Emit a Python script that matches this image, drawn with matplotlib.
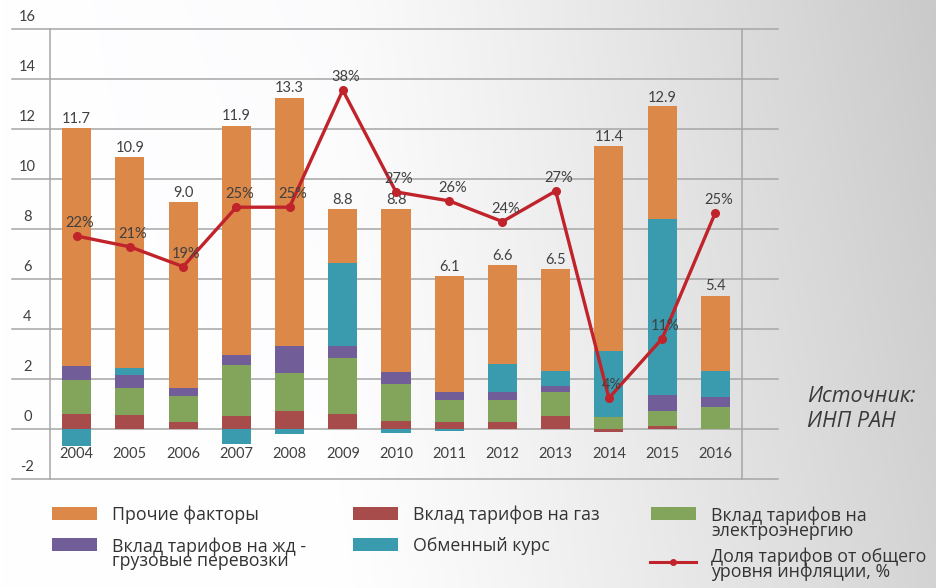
import numpy as np
import matplotlib
matplotlib.use("Agg")
import matplotlib.pyplot as plt
from matplotlib.patches import Rectangle
from matplotlib.lines import Line2D
from matplotlib.transforms import blended_transform_factory

# ---------------- data ----------------
years = ["2004", "2005", "2006", "2007", "2008", "2009", "2010",
         "2011", "2012", "2013", "2014", "2015", "2016"]
gas = [0.61, 0.57, 0.27, 0.51, 0.71, 0.61, 0.33, 0.29, 0.29, 0.53, -0.13, 0.11, 0.0]
electricity = [1.36, 1.09, 1.07, 2.04, 1.52, 2.25, 1.48, 0.88, 0.88, 0.96, 0.49, 0.63, 0.87]
rail = [0.56, 0.51, 0.29, 0.40, 1.08, 0.47, 0.48, 0.32, 0.32, 0.24, 0.0, 0.64, 0.40]
exchange = [-0.67, 0.28, 0.0, -0.61, -0.21, 3.32, -0.17, -0.09, 1.13, 0.60, 2.64, 7.04, 1.04]
other = [9.50, 8.44, 7.44, 9.19, 9.95, 2.16, 6.52, 4.64, 3.94, 4.08, 8.20, 4.48, 3.03]
total_labels = ["11.7", "10.9", "9.0", "11.9", "13.3", "8.8", "8.8",
                "6.1", "6.6", "6.5", "11.4", "12.9", "5.4"]
tariff_share = [22.0, 20.8, 18.6, 25.2, 25.2, 38.2, 26.9, 25.9, 23.6, 27.0, 4.0, 10.6, 24.6]
y_ticks = [-2, 0, 2, 4, 6, 8, 10, 12, 14, 16]

series_names = ["Вклад тарифов на газ", "Вклад тарифов на\nэлектроэнергию",
                "Вклад тарифов на жд -\nгрузовые перевозки", "Обменный курс",
                "Прочие факторы"]
line_name = "Доля тарифов от общего\nуровня инфляции, %"
source_text = "Источник:\nИНП РАН"

colors = {
    "gas": "#A84B4B",
    "elec": "#82A55B",
    "rail": "#715E98",
    "fx": "#3A9BAF",
    "other": "#DB8849",
    "line": "#C1232B",
}
txt_color = "#404040"
grid_color = "#A6A6A6"
num_font = ["Lato", "DejaVu Sans"]
leg_font = ["Open Sans", "DejaVu Sans"]

W, H = 936, 588
fig = plt.figure(figsize=(W / 100, H / 100), dpi=100)

# background gradient
bg = fig.add_axes([0, 0, 1, 1], zorder=-10)
gx = np.linspace(0, 1, 300)
gy = np.linspace(0, 1, 200)
GX, GY = np.meshgrid(gx, gy)
val = 1.0 - 0.17 * np.clip((GX - 0.35) / 0.65, 0, 1) ** 1.2 - 0.04 * GY * GX
bg.imshow(np.dstack([val, val, val * 1.005]).clip(0, 1), aspect="auto",
          extent=[0, 1, 0, 1], origin="lower")
bg.axis("off")

# main axes: pixel frame 50..742 x, 29..479 y
left, right, top, bottom = 50, 742, 29, 479
ax = fig.add_axes([left / W, 1 - bottom / H, (right - left) / W, (bottom - top) / H])
ax.set_facecolor("none")
ax.set_xlim(-0.5, 12.5)
ax.set_ylim(-2, 16)
for s in ["top", "bottom"]:
    ax.spines[s].set_visible(False)
for s in ["left", "right"]:
    ax.spines[s].set_color(grid_color)
    ax.spines[s].set_linewidth(1.1)
ax.set_xticks([])
ax.set_yticks([])

# gridlines extending beyond plot area
trans = blended_transform_factory(ax.transAxes, ax.transData)
x0 = (12 - left) / (right - left)
x1 = (778 - left) / (right - left)
for v in y_ticks:
    ax.plot([x0, x1], [v, v], transform=trans, color=grid_color, lw=1.1,
            clip_on=False, zorder=0.5)
    ax.annotate(str(v), xy=(0, v), xycoords=trans, xytext=(-22.5, 12),
                textcoords="offset pixels", ha="center", va="center",
                fontsize=10.5, color=txt_color, family=num_font,
                annotation_clip=False)

# stacked bars
x = np.arange(len(years))
width = 0.545
stack = [(gas, colors["gas"]), (electricity, colors["elec"]), (rail, colors["rail"]),
         (exchange, colors["fx"]), (other, colors["other"])]
pos_bottom = np.zeros(len(years))
neg_bottom = np.zeros(len(years))
for vals, c in stack:
    vals = np.array(vals)
    bottoms = np.where(vals >= 0, pos_bottom, neg_bottom)
    ax.bar(x, vals, width=width, bottom=bottoms, color=c, zorder=2, linewidth=0)
    pos_bottom = pos_bottom + np.where(vals >= 0, vals, 0)
    neg_bottom = neg_bottom + np.where(vals < 0, vals, 0)

for xi, top_v, lab in zip(x, pos_bottom, total_labels):
    ax.annotate(lab, xy=(xi, top_v), xytext=(0, 5), textcoords="offset pixels",
                ha="center", va="baseline", fontsize=10.5, color=txt_color,
                family=num_font, zorder=5)

# year labels inside plot
for xi, yl in zip(x, years):
    ax.text(xi, -1.02, yl, ha="center", va="center", fontsize=10.5,
            color=txt_color, family=num_font)

# secondary axis for the share line
ax2 = ax.twinx()
ax2.set_ylim(-5, 45)
ax2.axis("off")
ax2.plot(x, tariff_share, color=colors["line"], lw=2.4, marker="o",
         markersize=5.5, zorder=6)
for xi, p in zip(x, tariff_share):
    ax2.annotate(f"{int(round(p))}%", xy=(xi, p), xytext=(3, 9),
                 textcoords="offset pixels", ha="center", va="baseline",
                 fontsize=10.5, color=txt_color, family=num_font, zorder=7)

# legend (manual, in figure pixels)
def fig_xy(px, py):
    return px / W, 1 - py / H

def block(px, py, text, step, **kw):
    # py = baseline of first line; single text object, anchored on last baseline
    n = text.count("\n")
    tx, ty = fig_xy(px, py + n * step)
    fig.text(tx, ty, text, ha="left", va="baseline", **kw)

leg_kw = dict(fontsize=12.8, color="#333333", family=leg_font, linespacing=0.76)
leg_items = [
    (52, 507, colors["other"], series_names[4]),
    (353, 507, colors["gas"], series_names[0]),
    (651, 507, colors["elec"], series_names[1]),
    (52, 538, colors["rail"], series_names[2]),
    (353, 538, colors["fx"], series_names[3]),
]
for px, py, c, name in leg_items:
    fx_, fy_ = fig_xy(px, py + 13)
    fig.patches.append(Rectangle((fx_, fy_), 45 / W, 13 / H, transform=fig.transFigure,
                                 facecolor=c, edgecolor="none"))
    block(px + 60, py + 13, name, 15.5, **leg_kw)

lx0, ly = fig_xy(650, 562)
lx1, _ = fig_xy(696, 562)
fig.add_artist(Line2D([lx0, lx1], [ly, ly], color=colors["line"], lw=2.2,
                      transform=fig.transFigure))
fig.add_artist(Line2D([(lx0 + lx1) / 2], [ly], color=colors["line"], marker="o",
                      markersize=4, transform=fig.transFigure))
block(711, 562, line_name, 15.0, **leg_kw)

# source
block(807, 399, source_text, 28, fontsize=15.5, style="italic",
      color="#3a3a3a", family=leg_font, linespacing=1.22)

fig.savefig("out.png", dpi=100)
